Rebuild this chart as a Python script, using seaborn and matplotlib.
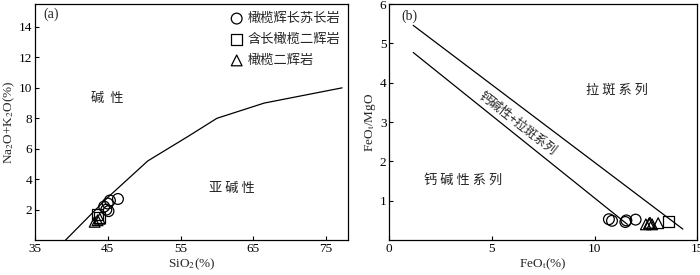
import matplotlib
matplotlib.use('Agg')
import matplotlib.pyplot as plt
import seaborn as sns

# (a) TAS diagram data
rock_types = ['橄榄辉长苏长岩', '含长橄榄二辉岩', '橄榄二辉岩']
markers = ['o', 's', '^']

sio2_circle = [46.4, 45.3, 45.0, 44.8, 44.5, 45.1]
alk_circle = [2.7, 2.6, 2.4, 2.0, 2.2, 1.9]
sio2_square = [43.6, 43.9]
alk_square = [1.7, 1.5]
sio2_triangle = [43.2, 43.6, 43.9]
alk_triangle = [1.2, 1.3, 1.4]

# alkaline / subalkaline boundary
div_sio2 = [39.2, 45.0, 50.5, 56.0, 60.0, 66.5, 77.2]
div_alk = [0.0, 2.8, 5.2, 6.8, 8.0, 9.0, 10.0]

# (b) FeOt vs FeOt/MgO data
feo_circle = [10.7, 10.85, 11.5, 11.55, 12.0]
ratio_circle = [0.53, 0.49, 0.46, 0.50, 0.52]
feo_square = [13.6]
ratio_square = [0.47]
feo_triangle = [12.5, 12.65, 12.8, 12.7, 13.1]
ratio_triangle = [0.40, 0.42, 0.40, 0.44, 0.43]

upper_x = [1.17, 14.3]
upper_y = [5.46, 0.28]
lower_x = [1.17, 11.6]
lower_y = [4.77, 0.40]

sns.set_theme(style='ticks')
plt.rcParams['font.family'] = ['Liberation Serif', 'Noto Sans CJK SC']
plt.rcParams['mathtext.fontset'] = 'stix'
plt.rcParams['xtick.direction'] = 'in'
plt.rcParams['ytick.direction'] = 'in'

fig = plt.figure(figsize=(7, 2.75), dpi=100)
ax1 = fig.add_axes([0.05, 0.127, 0.447, 0.858])
ax2 = fig.add_axes([0.556, 0.127, 0.44, 0.858])

cjk = ['Noto Sans CJK SC', 'DejaVu Sans']
pt_style = dict(facecolor='none', edgecolor='black', linewidth=0.9, s=60)

# ---- panel (a)
groups_a = [(sio2_circle, alk_circle), (sio2_square, alk_square), (sio2_triangle, alk_triangle)]
for (xs, ys), m, lab in zip(groups_a, markers, rock_types):
    sns.scatterplot(x=xs, y=ys, marker=m, label=lab, ax=ax1, **pt_style)
sns.lineplot(x=div_sio2, y=div_alk, color='black', linewidth=0.9, sort=False, ax=ax1)

ax1.set_xlim(35, 78)
ax1.set_ylim(0, 15.5)
ax1.set_xticks([35, 45, 55, 65, 75])
ax1.set_yticks([2, 4, 6, 8, 10, 12, 14])
ax1.set_xlabel('SiO$_2$(%)', fontsize=9.5, labelpad=1)
ax1.set_ylabel('Na$_2$O+K$_2$O(%)', fontsize=9.5, labelpad=1)
ax1.text(36.2, 14.6, '(a)', fontsize=10)
ax1.text(44.9, 9.3, '碱  性', fontsize=9.5, family=cjk, ha='center', va='center', color='#222222')
ax1.text(62.1, 3.4, '亚 碱 性', fontsize=9.5, family=cjk, ha='center', va='center', color='#222222')
leg = ax1.legend(loc='upper right', frameon=False, prop={'family': cjk, 'size': 9.5},
                 handletextpad=0.2, borderaxespad=0.2, labelspacing=0.6, handlelength=1.2)

# ---- panel (b)
groups_b = [(feo_circle, ratio_circle), (feo_square, ratio_square), (feo_triangle, ratio_triangle)]
for (xs, ys), m in zip(groups_b, markers):
    sns.scatterplot(x=xs, y=ys, marker=m, ax=ax2, legend=False, **pt_style)
sns.lineplot(x=upper_x, y=upper_y, color='black', linewidth=0.9, ax=ax2)
sns.lineplot(x=lower_x, y=lower_y, color='black', linewidth=0.9, ax=ax2)

ax2.set_xlim(0, 15)
ax2.set_ylim(0, 6)
ax2.set_xticks([0, 5, 10, 15])
ax2.set_yticks([1, 2, 3, 4, 5, 6])
ax2.set_xlabel('FeO$_\\mathrm{t}$(%)', fontsize=9.5, labelpad=1)
ax2.set_ylabel('FeO$_\\mathrm{t}$/MgO', fontsize=9.5, labelpad=1)
ax2.text(0.6, 5.6, '(b)', fontsize=10)
ax2.text(11.1, 3.8, '拉 斑 系 列', fontsize=9.5, family=cjk, ha='center', va='center', color='#222222')
ax2.text(3.6, 1.52, '钙 碱 性 系 列', fontsize=9.5, family=cjk, ha='center', va='center', color='#222222')
ax2.text(6.25, 2.98, '钙碱性+拉斑系列', fontsize=9, family=cjk, ha='center', va='center',
         rotation=-38, rotation_mode='anchor', color='#222222')

for ax in (ax1, ax2):
    for sp in ax.spines.values():
        sp.set_linewidth(0.9)
        sp.set_color('black')
    ax.tick_params(length=3, width=0.8, labelsize=9.5, pad=2, colors='black')

fig.savefig('out.png', dpi=100)
